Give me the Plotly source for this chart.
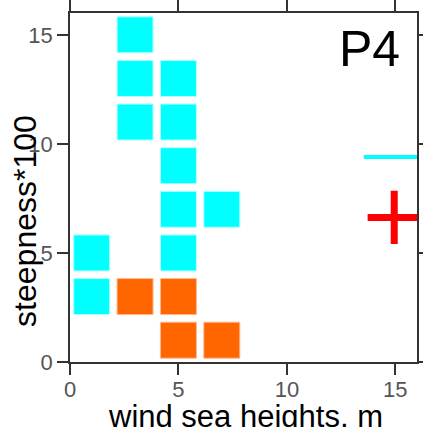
import plotly.graph_objects as go

# Data
cyan_x = [3, 3, 5, 3, 5, 5, 5, 7, 1, 5, 1]
cyan_y = [15, 13, 13, 11, 11, 9, 7, 7, 5, 5, 3]
orange_x = [3, 5, 5, 7]
orange_y = [3, 3, 1, 1]
dash_x = [14.9]
dash_y = [9.4]
plus_x = [14.95]
plus_y = [6.63]
tick_vals = [0, 5, 10, 15]
x_title = "wind sea heights, m"
y_title = "steepness*100"
panel_label = "P4"

CYAN = "#00FFFF"
ORANGE = "#FF6600"
FONT = "Liberation Sans, Arial, sans-serif"

fig = go.Figure()
fig.add_trace(go.Scatter(
    x=cyan_x, y=cyan_y, mode="markers",
    marker=dict(symbol="square", size=36, color=CYAN,
                line=dict(width=1, color="#B8FFFF")),
    showlegend=False, hoverinfo="skip"))
fig.add_trace(go.Scatter(
    x=orange_x, y=orange_y, mode="markers",
    marker=dict(symbol="square", size=36, color=ORANGE,
                line=dict(width=1, color="#FFB890")),
    showlegend=False, hoverinfo="skip"))
fig.add_trace(go.Scatter(
    x=dash_x, y=dash_y, mode="markers",
    marker=dict(symbol="line-ew", size=42, color=CYAN,
                line=dict(width=4, color=CYAN)),
    showlegend=False, hoverinfo="skip"))
fig.add_trace(go.Scatter(
    x=plus_x, y=plus_y, mode="markers",
    marker=dict(symbol="cross-thin", size=38, color="#FF0000",
                line=dict(width=7, color="#FF0000")),
    showlegend=False, hoverinfo="skip"))

axis_common = dict(
    showgrid=False, zeroline=False, showline=True, linecolor="#333",
    linewidth=1.5, mirror="ticks", ticks="outside", ticklen=11,
    tickwidth=1.5, tickcolor="#333", tickvals=tick_vals, automargin=False,
    tickfont=dict(family=FONT, size=22, color="#555"))

fig.update_xaxes(range=[0, 16], ticklabelstandoff=-4, **axis_common)
fig.update_yaxes(range=[0, 16], **axis_common)

fig.add_annotation(text=x_title, xref="paper", yref="paper",
                   x=0.507, y=-0.155, xanchor="center", yanchor="middle",
                   showarrow=False, font=dict(family=FONT, size=31, color="#000"))
fig.add_annotation(text=y_title, xref="paper", yref="paper",
                   x=-0.13, y=0.404, xanchor="center", yanchor="middle",
                   textangle=-90,
                   showarrow=False, font=dict(family=FONT, size=32, color="#000"))
fig.add_annotation(text=panel_label, xref="x", yref="y",
                   x=15.3, y=14.37, xanchor="right", yanchor="middle",
                   showarrow=False, font=dict(family=FONT, size=50, color="#000"))

fig.update_layout(
    width=423, height=427,
    margin=dict(l=70, r=6, t=13, b=65),
    paper_bgcolor="white", plot_bgcolor="white",
)

fig.write_html("out.html")
